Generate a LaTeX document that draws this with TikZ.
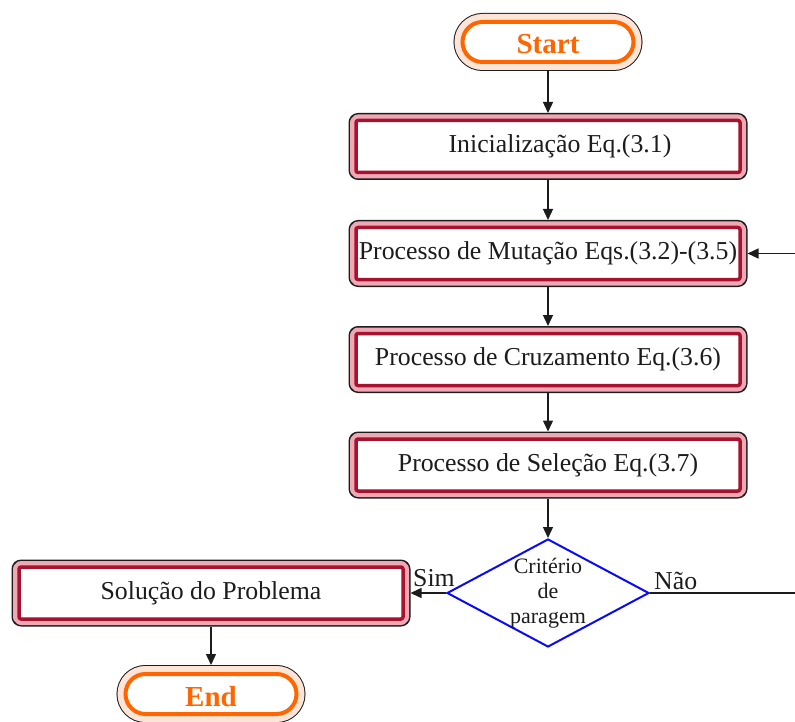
\documentclass[tikz,border=0pt]{standalone}
\usepackage{fontspec}
\setmainfont{Liberation Serif}
\usetikzlibrary{shapes.geometric,shapes.misc,arrows.meta}

\definecolor{framepink}{HTML}{EFA8B4}
\definecolor{crimson}{HTML}{A5132F}
\definecolor{startorange}{HTML}{FF6600}
\definecolor{peach}{HTML}{FCE4D6}
\definecolor{inkgray}{HTML}{1C1C1C}
\definecolor{decblue}{HTML}{0A0AF5}

\begin{document}
\begin{tikzpicture}[x=1pt,y=-1pt,
  procbox/.style={rectangle, rounded corners=2pt, minimum width=384pt, minimum height=52pt,
    inner sep=0pt, outer sep=7.5pt, line join=round,
    preaction={draw=inkgray, line width=15pt, line join=round},
    preaction={draw=framepink, line width=12pt, line join=round},
    fill=white, draw=crimson, line width=3.5pt, text=inkgray,
    font=\fontsize{25.8}{30}\selectfont},
  terminal/.style={rounded rectangle, minimum width=171pt, minimum height=40pt,
    inner sep=0pt, outer sep=9pt, text height=24pt, text depth=0pt,
    preaction={draw=inkgray, line width=18pt},
    preaction={draw=peach, line width=16pt},
    fill=white, draw=startorange, line width=4pt, text=startorange,
    font=\fontsize{29}{34}\selectfont\bfseries},
  decision/.style={diamond, draw=decblue, line width=2pt, fill=white,
    minimum width=202pt, minimum height=108pt, inner sep=0pt},
  decisiontext/.style={text=inkgray, align=center, inner sep=0pt,
    font=\fontsize{22}{25}\selectfont},
  flow/.style={draw=inkgray, line width=1.3pt, -{Triangle[length=11pt,width=10pt]}},
  edgelabel/.style={text=inkgray, inner sep=0pt, font=\fontsize{25.8}{30}\selectfont},
]
\useasboundingbox (0,0) rectangle (795,722);
\clip (0,0) rectangle (795,722);

% main column
\node[terminal] (start) at (548,42) {Start};
\node[procbox] (init) at (548,146.5) {\hspace*{24pt}Inicialização Eq.(3.1)};
\node[procbox] (mut) at (548,253.5) {Processo de Mutação Eqs.(3.2)-(3.5)};
\node[procbox] (cross) at (548,359.5) {Processo de Cruzamento Eq.(3.6)};
\node[procbox] (sel) at (548,465) {Processo de Seleção Eq.(3.7)};
\node[decision] (crit) at (548,593) {};
\node[decisiontext] (crittext) at (crit) {Critério\\de\\paragem};

% exit branch
\node[procbox] (sol) at (211,593) {Solução do Problema};
\node[terminal] (finish) at (211,694) {End};

\coordinate (loopturn) at (805,0);

\draw[flow] (start) -- (init);
\draw[flow] (init) -- (mut);
\draw[flow] (mut) -- (cross);
\draw[flow] (cross) -- (sel);
\draw[flow] (sel) -- (crit);
\draw[flow] (crit.west) -- (sol.east);
\draw[flow] (sol) -- (finish);
\draw[flow] (crit.east) -- (crit.east -| loopturn) |- (mut.east);

\node[edgelabel, anchor=base east] (simlabel) at ([xshift=9pt,yshift=7pt]crit.west) {Sim};
\node[edgelabel, anchor=base west] (naolabel) at ([xshift=4pt,yshift=4pt]crit.east) {Não};
\end{tikzpicture}
\end{document}
